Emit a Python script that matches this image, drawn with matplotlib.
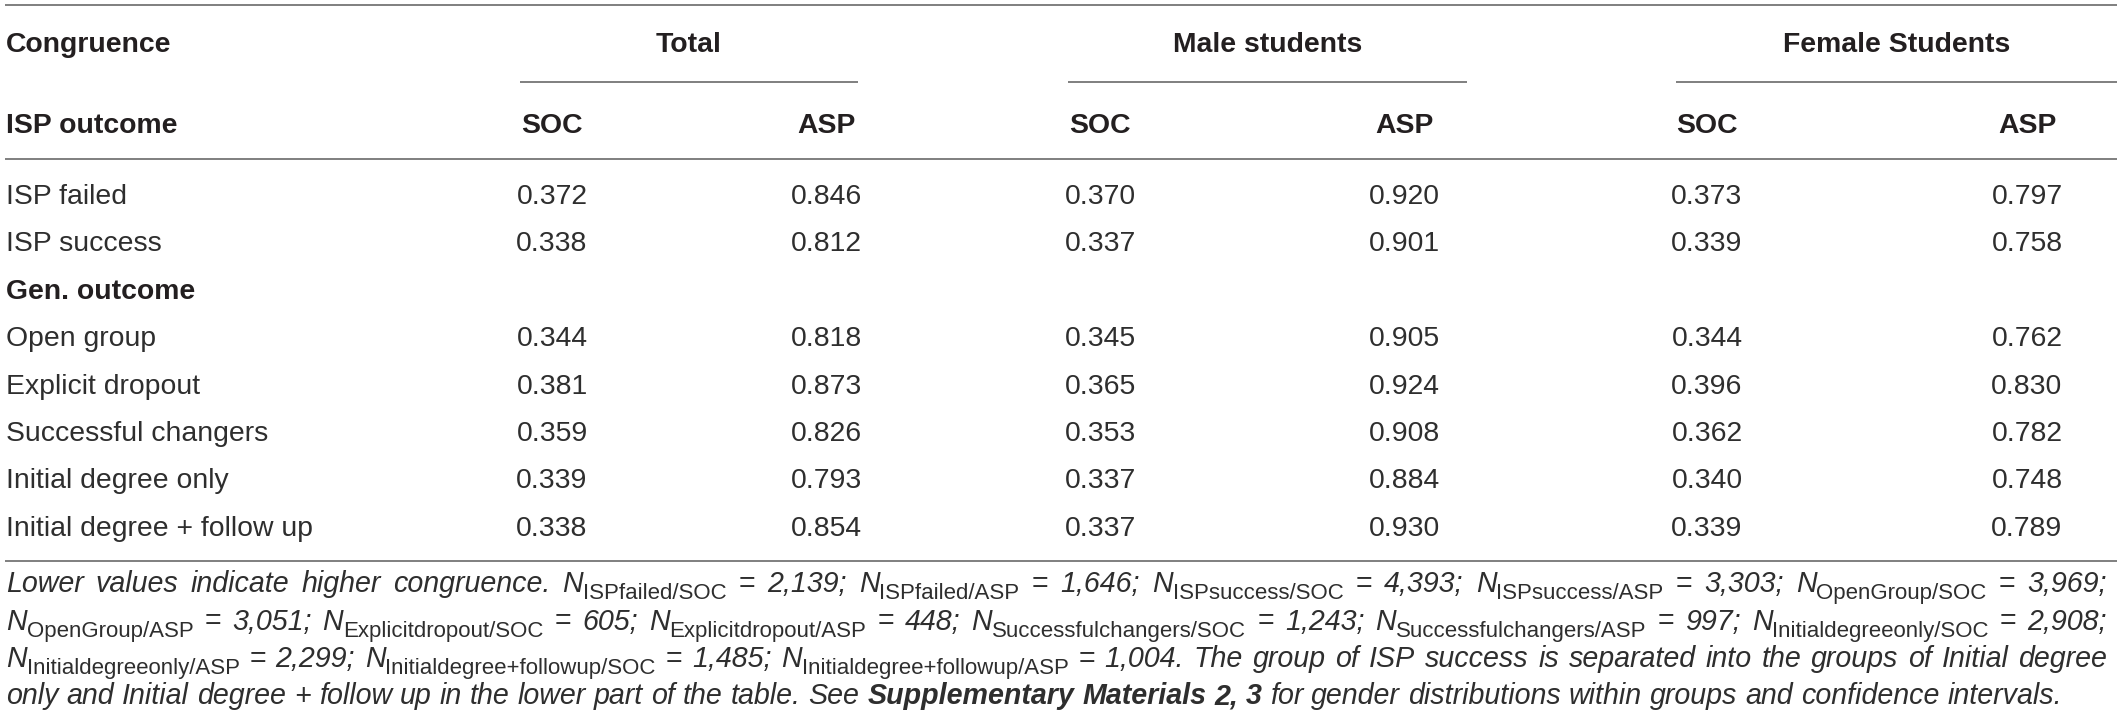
import matplotlib
matplotlib.use("Agg")
import matplotlib.pyplot as plt

# ---------------- data ----------------
group_headers = ["Total", "Male students", "Female Students"]
sub_headers = ["SOC", "ASP", "SOC", "ASP", "SOC", "ASP"]
row_labels = ["ISP failed", "ISP success", "Gen. outcome", "Open group",
              "Explicit dropout", "Successful changers", "Initial degree only",
              "Initial degree + follow up"]
section_rows = ["Gen. outcome"]
total_soc = [0.372, 0.338, None, 0.344, 0.381, 0.359, 0.339, 0.338]
total_asp = [0.846, 0.812, None, 0.818, 0.873, 0.826, 0.793, 0.854]
male_soc = [0.370, 0.337, None, 0.345, 0.365, 0.353, 0.337, 0.337]
male_asp = [0.920, 0.901, None, 0.905, 0.924, 0.908, 0.884, 0.930]
female_soc = [0.373, 0.339, None, 0.344, 0.396, 0.362, 0.340, 0.339]
female_asp = [0.797, 0.758, None, 0.762, 0.830, 0.782, 0.748, 0.789]

n_groups = ["ISPfailed", "ISPsuccess", "OpenGroup", "Explicitdropout",
            "Successfulchangers", "Initialdegreeonly", "Initialdegree+followup"]
n_soc = ["2,139", "4,393", "3,969", "605", "1,243", "2,908", "1,485"]
n_asp = ["1,646", "3,303", "3,051", "448", "997", "2,299", "1,004"]
note_intro = "Lower values indicate higher congruence."
note_tail = ("The group of ISP success is separated into the groups of Initial degree "
             "| only and Initial degree + follow up in the lower part of the table. See")
note_bold = "Supplementary Materials 2, 3"
note_end = "for gender distributions within groups and confidence intervals."

# ---------------- layout ----------------
W, H = 2117, 721
FAM = "Liberation Sans"
FS = 20.4
FS_NOTE = 20.6
DARK = "#231f20"
BODY = "#2e2e2e"
RULE = "#7f7f7f"

fig = plt.figure(figsize=(W / 100, H / 100), dpi=100)
ax = fig.add_axes([0, 0, 1, 1])
ax.set_xlim(0, W)
ax.set_ylim(H, 0)
ax.axis("off")

col_x = [552, 826, 1100, 1404, 1707, 2027]
group_spans = [(520, 858), (1068, 1467), (1676, 2117)]
label_x = 6
y_group = 52
y_sub = 133
row_y0 = 204
row_dy = 47.4

# rules
for yy in (5, 159, 561):
    ax.plot([5, W], [yy, yy], color=RULE, lw=1.4, solid_capstyle="butt")
for (a, b) in group_spans:
    ax.plot([a, b], [82, 82], color=RULE, lw=1.4, solid_capstyle="butt")

# headers
ax.text(label_x, y_group, "Congruence", family=FAM, fontsize=FS, fontweight="bold",
        color=DARK, va="baseline", ha="left")
ax.text(label_x, y_sub, "ISP outcome", family=FAM, fontsize=FS, fontweight="bold",
        color=DARK, va="baseline", ha="left")
for g, (a, b) in zip(group_headers, group_spans):
    ax.text((a + b) / 2, y_group, g, family=FAM, fontsize=FS, fontweight="bold",
            color=DARK, va="baseline", ha="center")
for s, x in zip(sub_headers, col_x):
    ax.text(x, y_sub, s, family=FAM, fontsize=FS, fontweight="bold",
            color=DARK, va="baseline", ha="center")

# body
cols = [total_soc, total_asp, male_soc, male_asp, female_soc, female_asp]
for i, lab in enumerate(row_labels):
    y = row_y0 + i * row_dy
    bold = lab in section_rows
    ax.text(label_x, y, lab, family=FAM, fontsize=FS,
            fontweight="bold" if bold else "normal",
            color=DARK if bold else BODY, va="baseline", ha="left")
    for x, col in zip(col_x, cols):
        v = col[i]
        if v is None:
            continue
        ax.text(x, y, f"{v:.3f}", family=FAM, fontsize=FS, color=BODY,
                va="baseline", ha="center")

# ---------------- footnote ----------------
def run(text, style="italic", weight="normal", scale=1.0, dy=0.0):
    return dict(text=text, style=style, weight=weight, scale=scale, dy=dy)

tokens = []  # each token: list of runs; "BR" = line break
for w in note_intro.split():
    tokens.append([run(w)])
order = []
for g, s, a in zip(n_groups, n_soc, n_asp):
    order.append((g, "SOC", s))
    order.append((g, "ASP", a))
breaks_after = {("OpenGroup", "SOC"), ("Initialdegreeonly", "SOC")}
for k, (g, kind, val) in enumerate(order):
    tokens.append([run("N"), run(f"{g}/{kind}", style="normal", scale=0.78, dy=7)])
    tokens.append([run("=", style="normal")])
    end = "." if k == len(order) - 1 else ";"
    tokens.append([run(val + end)])
    if (g, kind) in breaks_after:
        tokens.append("BR")
for w in note_tail.split():
    tokens.append("BR" if w == "|" else [run(w)])
for w in note_bold.split():
    tokens.append([run(w, weight="bold")])
for w in note_end.split():
    tokens.append([run(w)])

lines = [[]]
for t in tokens:
    if t == "BR":
        lines.append([])
    else:
        lines[-1].append(t)

fig.canvas.draw()
renderer = fig.canvas.get_renderer()

def measure(r):
    t = ax.text(0, 0, r["text"], family=FAM, fontsize=FS_NOTE * r["scale"],
                fontstyle=r["style"], fontweight=r["weight"])
    wdt = t.get_window_extent(renderer).width
    t.remove()
    return wdt

def space_width():
    a = ax.text(0, 0, "a a", family=FAM, fontsize=FS_NOTE, fontstyle="italic")
    b = ax.text(0, 0, "aa", family=FAM, fontsize=FS_NOTE, fontstyle="italic")
    d = a.get_window_extent(renderer).width - b.get_window_extent(renderer).width
    a.remove(); b.remove()
    return d

sp = space_width()
note_y = [592, 629.5, 667, 704.5]
x_left, x_right = 6, 2107
for li, line in enumerate(lines):
    widths = [[measure(r) for r in tok] for tok in line]
    tot = sum(sum(w) for w in widths)
    if li < len(lines) - 1 and len(line) > 1:
        gap = (x_right - x_left - tot) / (len(line) - 1)
    else:
        gap = sp
    x = x_left
    for tok, ws in zip(line, widths):
        for r, wdt in zip(tok, ws):
            ax.text(x, note_y[li] + r["dy"], r["text"], family=FAM,
                    fontsize=FS_NOTE * r["scale"], fontstyle=r["style"],
                    fontweight=r["weight"], color=BODY, va="baseline", ha="left")
            x += wdt
        x += gap

fig.savefig("out.png", dpi=100, facecolor="white")
